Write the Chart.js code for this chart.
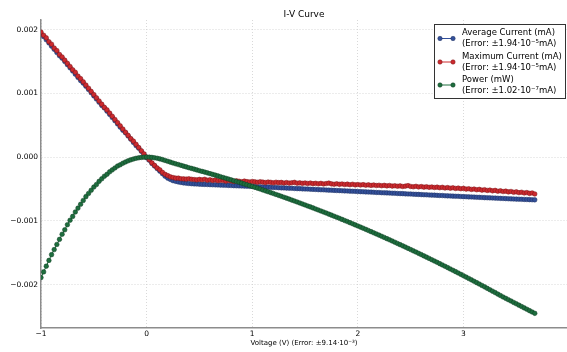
<!DOCTYPE html>
<html>
<head>
<meta charset="utf-8">
<title>I-V Curve</title>
<script src="https://cdn.jsdelivr.net/npm/chart.js@4.4.1/dist/chart.umd.min.js"></script>
<style>
  html, body { margin: 0; padding: 0; background: #fff; }
  #wrap { width: 567px; height: 352px; }
</style>
</head>
<body>
<div id="wrap"><canvas id="iv-chart" width="567" height="352"></canvas></div>
<script>
// sweep voltage (V)
const voltage = [
  -1, -0.975, -0.95, -0.925, -0.9, -0.875, -0.85, -0.825, -0.8, -0.775,
  -0.75, -0.725, -0.7, -0.675, -0.65, -0.625, -0.6, -0.575, -0.55, -0.525,
  -0.5, -0.475, -0.45, -0.425, -0.4, -0.375, -0.35, -0.325, -0.3, -0.275,
  -0.25, -0.225, -0.2, -0.175, -0.15, -0.125, -0.1, -0.075, -0.05, -0.025,
  0, 0.025, 0.05, 0.075, 0.1, 0.125, 0.15, 0.175, 0.2, 0.225,
  0.25, 0.275, 0.3, 0.325, 0.35, 0.375, 0.4, 0.425, 0.45, 0.475,
  0.5, 0.525, 0.55, 0.575, 0.6, 0.625, 0.65, 0.675, 0.7, 0.725,
  0.75, 0.775, 0.8, 0.825, 0.85, 0.875, 0.9, 0.925, 0.95, 0.975,
  1, 1.025, 1.05, 1.075, 1.1, 1.125, 1.15, 1.175, 1.2, 1.225,
  1.25, 1.275, 1.3, 1.325, 1.35, 1.375, 1.4, 1.425, 1.45, 1.475,
  1.5, 1.525, 1.55, 1.575, 1.6, 1.625, 1.65, 1.675, 1.7, 1.725,
  1.75, 1.775, 1.8, 1.825, 1.85, 1.875, 1.9, 1.925, 1.95, 1.975,
  2, 2.025, 2.05, 2.075, 2.1, 2.125, 2.15, 2.175, 2.2, 2.225,
  2.25, 2.275, 2.3, 2.325, 2.35, 2.375, 2.4, 2.425, 2.45, 2.475,
  2.5, 2.525, 2.55, 2.575, 2.6, 2.625, 2.65, 2.675, 2.7, 2.725,
  2.75, 2.775, 2.8, 2.825, 2.85, 2.875, 2.9, 2.925, 2.95, 2.975,
  3, 3.025, 3.05, 3.075, 3.1, 3.125, 3.15, 3.175, 3.2, 3.225,
  3.25, 3.275, 3.3, 3.325, 3.35, 3.375, 3.4, 3.425, 3.45, 3.475,
  3.5, 3.525, 3.55, 3.575, 3.6, 3.625, 3.65, 3.675
];

const avgCurrent = [
  0.00194, 0.00189, 0.00184, 0.00179, 0.00174, 0.00169, 0.00164, 0.00159, 0.00155, 0.0015,
  0.00145, 0.0014, 0.00135, 0.0013, 0.00125, 0.0012, 0.00116, 0.00111, 0.00106, 0.00101,
  0.00096, 0.00091, 0.00086, 0.00081, 0.00077, 0.00072, 0.00067, 0.00062, 0.00057, 0.00052,
  0.00047, 0.00042, 0.00038, 0.00033, 0.00028, 0.00023, 0.00018, 0.00014, 0.00009, 0.00004,
  -0.00001, -0.00005, -0.0001, -0.00014, -0.00018, -0.00022, -0.00026, -0.0003, -0.00033, -0.00035,
  -0.00037, -0.00038, -0.00039, -0.000398, -0.000405, -0.00041, -0.000414, -0.000417, -0.00042, -0.000422,
  -0.000425, -0.000427, -0.000428, -0.00043, -0.000432, -0.000434, -0.000435, -0.000437, -0.000439, -0.000441,
  -0.000442, -0.000444, -0.000446, -0.000448, -0.00045, -0.000451, -0.000453, -0.000455, -0.000457, -0.000458,
  -0.00046, -0.000462, -0.000464, -0.000465, -0.000468, -0.00047, -0.000471, -0.000474, -0.000476, -0.000477,
  -0.00048, -0.000482, -0.000483, -0.000486, -0.000488, -0.000489, -0.000492, -0.000494, -0.000495, -0.000498,
  -0.0005, -0.000501, -0.000504, -0.000506, -0.000507, -0.00051, -0.000512, -0.000513, -0.000516, -0.000518,
  -0.000519, -0.000522, -0.000524, -0.000525, -0.000528, -0.00053, -0.000531, -0.000534, -0.000536, -0.000537,
  -0.00054, -0.000542, -0.000543, -0.000546, -0.000548, -0.000549, -0.000552, -0.000554, -0.000555, -0.000558,
  -0.00056, -0.000561, -0.000564, -0.000566, -0.000567, -0.00057, -0.000572, -0.000573, -0.000576, -0.000578,
  -0.000579, -0.000582, -0.000584, -0.000585, -0.000588, -0.00059, -0.000591, -0.000594, -0.000596, -0.000597,
  -0.0006, -0.000602, -0.000603, -0.000606, -0.000608, -0.000609, -0.000612, -0.000614, -0.000615, -0.000618,
  -0.00062, -0.000621, -0.000624, -0.000625, -0.000627, -0.00063, -0.000631, -0.000633, -0.000636, -0.000637,
  -0.000639, -0.000641, -0.000643, -0.000645, -0.000647, -0.000649, -0.000651, -0.000653, -0.000655, -0.000657,
  -0.000659, -0.00066, -0.000662, -0.000664, -0.000665, -0.000667, -0.000669, -0.00067
];

const maxCurrent = [
  0.00196, 0.00191, 0.00187, 0.00181, 0.00177, 0.00171, 0.00167, 0.00161, 0.00157, 0.00152,
  0.00147, 0.00142, 0.00137, 0.00133, 0.00127, 0.00123, 0.00118, 0.00113, 0.00108, 0.00103,
  0.00098, 0.00093, 0.00088, 0.00083, 0.00078, 0.00074, 0.00069, 0.00064, 0.00059, 0.00054,
  0.00049, 0.00044, 0.00039, 0.00034, 0.00029, 0.00025, 0.0002, 0.00015, 0.0001, 0.00005,
  0, -0.00004, -0.00009, -0.00013, -0.00017, -0.0002, -0.00024, -0.00027, -0.00029, -0.00031,
  -0.00032, -0.00033, -0.00033, -0.00034, -0.000342, -0.000345, -0.00034, -0.000348, -0.000352, -0.000357,
  -0.00035, -0.000356, -0.000348, -0.000362, -0.000355, -0.000366, -0.000358, -0.00037, -0.000362, -0.000368,
  -0.000376, -0.000365, -0.000374, -0.000381, -0.000372, -0.000378, -0.000386, -0.000377, -0.000384, -0.00039,
  -0.000382, -0.000388, -0.000395, -0.000386, -0.000392, -0.0004, -0.000391, -0.000396, -0.000403, -0.000394,
  -0.000401, -0.000397, -0.000406, -0.000399, -0.000408, -0.000402, -0.000396, -0.000409, -0.000404, -0.000412,
  -0.000405, -0.000414, -0.000407, -0.000416, -0.000411, -0.000419, -0.000412, -0.000421, -0.000415, -0.000408,
  -0.00042, -0.000426, -0.000418, -0.000427, -0.000421, -0.00043, -0.000424, -0.000433, -0.000426, -0.000436,
  -0.00043, -0.000438, -0.000432, -0.000441, -0.000435, -0.000444, -0.000437, -0.000446, -0.000441, -0.000449,
  -0.000443, -0.000452, -0.000445, -0.000455, -0.000449, -0.000457, -0.000452, -0.000461, -0.000455, -0.000447,
  -0.00046, -0.000466, -0.000458, -0.000468, -0.000462, -0.000471, -0.000465, -0.000474, -0.000468, -0.000477,
  -0.000471, -0.00048, -0.000474, -0.000485, -0.000478, -0.000488, -0.000481, -0.000492, -0.000486, -0.000496,
  -0.00049, -0.000502, -0.000496, -0.000507, -0.000501, -0.000512, -0.000506, -0.000518, -0.000511, -0.000523,
  -0.000517, -0.000529, -0.000522, -0.000535, -0.000528, -0.00054, -0.000534, -0.000546, -0.000539, -0.000552,
  -0.000545, -0.000557, -0.000551, -0.000563, -0.000556, -0.000569, -0.000562, -0.000578
];

const power = [
  -0.00189, -0.0018, -0.00171, -0.00162, -0.00153, -0.00145, -0.00137, -0.00129, -0.00121, -0.00114,
  -0.00106, -0.00099, -0.00093, -0.00086, -0.0008, -0.00074, -0.00068, -0.00062, -0.00057, -0.00052,
  -0.00047, -0.00043, -0.00038, -0.00034, -0.0003, -0.00027, -0.00023, -0.0002, -0.00017, -0.00014,
  -0.00012, -0.000096, -0.000076, -0.000058, -0.000043, -0.00003, -0.000019, -0.000011, -0.000005, -0.000001,
  0, -0.000001, -0.000005, -0.000011, -0.000018, -0.000028, -0.000039, -0.000053, -0.000066, -0.000079,
  -0.000093, -0.000105, -0.000117, -0.000129, -0.000142, -0.000154, -0.000166, -0.000177, -0.000189, -0.000201,
  -0.000213, -0.000224, -0.000235, -0.000247, -0.000259, -0.000271, -0.000283, -0.000295, -0.000307, -0.00032,
  -0.000332, -0.000344, -0.000357, -0.00037, -0.000383, -0.000395, -0.000408, -0.000421, -0.000434, -0.000447,
  -0.00046, -0.000474, -0.000487, -0.000501, -0.000515, -0.000529, -0.000543, -0.000557, -0.000571, -0.000586,
  -0.0006, -0.000615, -0.000629, -0.000644, -0.000659, -0.000674, -0.000689, -0.000704, -0.000719, -0.000735,
  -0.00075, -0.000766, -0.000781, -0.000797, -0.000813, -0.000829, -0.000845, -0.000861, -0.000877, -0.000894,
  -0.00091, -0.000927, -0.000943, -0.00096, -0.000977, -0.000994, -0.001011, -0.001028, -0.001045, -0.001063,
  -0.00108, -0.001098, -0.001115, -0.001133, -0.001151, -0.001169, -0.001187, -0.001205, -0.001223, -0.001242,
  -0.00126, -0.001279, -0.001297, -0.001316, -0.001335, -0.001354, -0.001373, -0.001392, -0.001411, -0.001431,
  -0.00145, -0.00147, -0.001489, -0.001509, -0.001529, -0.001549, -0.001569, -0.001589, -0.001609, -0.00163,
  -0.00165, -0.001671, -0.001691, -0.001712, -0.001733, -0.001754, -0.001775, -0.001796, -0.001817, -0.001839,
  -0.00186, -0.001882, -0.001903, -0.001925, -0.001947, -0.001969, -0.001991, -0.002013, -0.002035, -0.002058,
  -0.00208, -0.002103, -0.002125, -0.002148, -0.002171, -0.002194, -0.002215, -0.002236, -0.002257, -0.002279,
  -0.0023, -0.002322, -0.002343, -0.002365, -0.002386, -0.002408, -0.002429, -0.00245
];

const seriesNames = ["Average Current (mA)", "Maximum Current (mA)", "Power (mW)"];
const seriesErrors = [
  "(Error: \u00b11.94\u00b710\u207b\u2075mA)",
  "(Error: \u00b11.94\u00b710\u207b\u2075mA)",
  "(Error: \u00b11.02\u00b710\u207b\u2077mA)"
];
const xTitle = "Voltage (V) (Error: \u00b19.14\u00b710\u207b\u00b3)";
const chartTitle = "I-V Curve";

const colors = ["#33509a", "#cc2a2e", "#1e6e3e"];
const edges = ["#1d2f5e", "#7a1518", "#0f3d22"];
const FONT = '"DejaVu Sans", "Liberation Sans", sans-serif';

function points(ys) {
  return voltage.map((v, i) => ({ x: v, y: ys[i] }));
}

function minusSign(s) {
  return s.replace("-", "\u2212");
}

// title, x label and the boxed legend
const decorations = {
  id: "decorations",
  afterDraw(chart) {
    const ctx = chart.ctx;
    const a = chart.chartArea;
    ctx.save();
    ctx.fillStyle = "#000";
    ctx.textAlign = "center";
    ctx.textBaseline = "middle";
    ctx.font = "9px " + FONT;
    ctx.fillText(chartTitle, 304, 14.5);
    ctx.font = "7px " + FONT;
    ctx.fillText(xTitle, 304, 343);

    // legend box
    const bx = 434.5, by = 24.5, bw = 131, bh = 74;
    ctx.fillStyle = "#fff";
    ctx.fillRect(bx, by, bw, bh);
    ctx.strokeStyle = "#333";
    ctx.lineWidth = 1;
    ctx.strokeRect(bx, by, bw, bh);

    const rows = [38.5, 62, 85];
    ctx.textAlign = "left";
    ctx.font = "8.5px " + FONT;
    rows.forEach((cy, i) => {
      ctx.strokeStyle = colors[i];
      ctx.lineWidth = 1;
      ctx.beginPath();
      ctx.moveTo(440, cy);
      ctx.lineTo(453, cy);
      ctx.stroke();
      [440, 453].forEach((px) => {
        ctx.beginPath();
        ctx.arc(px, cy, 2.2, 0, Math.PI * 2);
        ctx.fillStyle = colors[i];
        ctx.fill();
        ctx.lineWidth = 0.5;
        ctx.strokeStyle = edges[i];
        ctx.stroke();
      });
      ctx.fillStyle = "#000";
      ctx.fillText(seriesNames[i], 462, cy - 5.3);
      ctx.fillText(seriesErrors[i], 462, cy + 5.3);
    });
    ctx.restore();
  }
};

function dataset(i, ys, order) {
  return {
    label: seriesNames[i],
    data: points(ys),
    showLine: true,
    borderColor: colors[i],
    borderWidth: 1,
    backgroundColor: colors[i],
    pointBackgroundColor: colors[i],
    pointBorderColor: edges[i],
    pointBorderWidth: 0.5,
    pointRadius: 2.3,
    order: order
  };
}

new Chart(document.getElementById("iv-chart"), {
  type: "scatter",
  data: {
    datasets: [
      dataset(0, avgCurrent, 3),
      dataset(1, maxCurrent, 2),
      dataset(2, power, 1)
    ]
  },
  options: {
    responsive: false,
    animation: false,
    layout: { autoPadding: false, padding: { top: 20, left: 0, right: 0, bottom: 0 } },
    plugins: {
      legend: { display: false },
      tooltip: { enabled: false },
      title: { display: false }
    },
    scales: {
      x: {
        type: "linear",
        min: -1,
        max: 3.98,
        afterFit(scale) { scale.height = 24; },
        ticks: {
          stepSize: 1,
          includeBounds: false,
          padding: 2,
          color: "#000",
          font: { family: FONT, size: 7.5 },
          callback: (v) => minusSign(String(Math.round(v)))
        },
        grid: { color: "#cfcfcf", lineWidth: 0.8, drawTicks: false },
        border: { display: true, color: "#8c8c8c", width: 1.5, dash: [1, 2] }
      },
      y: {
        type: "linear",
        min: -0.00268,
        max: 0.00215,
        afterFit(scale) { scale.width = 41; },
        ticks: {
          stepSize: 0.001,
          includeBounds: false,
          padding: 3,
          color: "#000",
          font: { family: FONT, size: 7.5 },
          callback: (v) => (Math.abs(v) < 1e-9 ? "0.000" : minusSign(v.toFixed(3)))
        },
        grid: { color: "#cfcfcf", lineWidth: 0.8, drawTicks: false },
        border: { display: true, color: "#8c8c8c", width: 1.5, dash: [1, 2] }
      }
    }
  },
  plugins: [decorations]
});
</script>
</body>
</html>
